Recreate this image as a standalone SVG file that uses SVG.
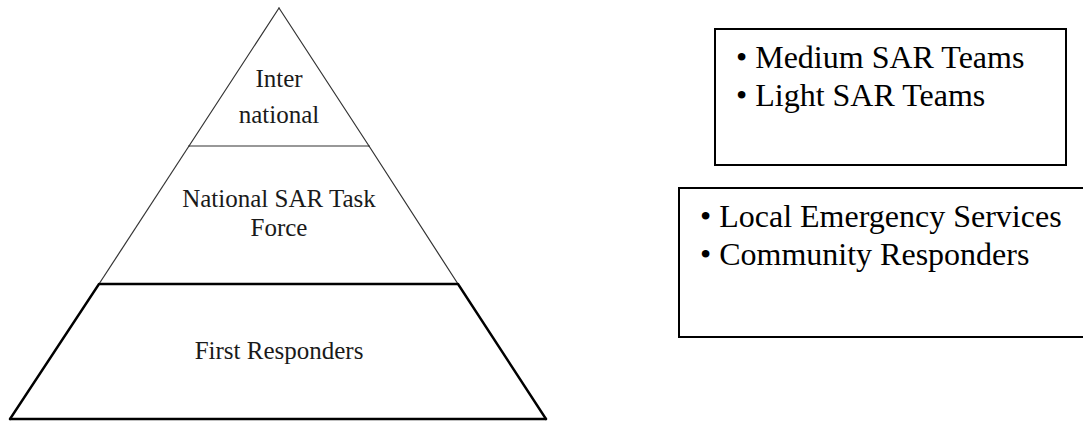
<svg xmlns="http://www.w3.org/2000/svg" width="1083" height="421" viewBox="0 0 1083 421">
  <style>
    .thin { stroke: #333; stroke-width: 1.2; fill: none; stroke-linecap: round; }
    .thick { stroke: #000; stroke-width: 2.4; fill: none; stroke-linecap: round; }
    .ptxt { font-family: "Liberation Serif", "Times New Roman", serif; font-size: 25px; fill: #1a1a1a; text-anchor: middle; }
    .box { fill: #fff; stroke: #000; stroke-width: 2; }
    .btxt { font-family: "Liberation Serif", "Times New Roman", serif; font-size: 32px; fill: #000; }
  </style>
  <rect width="1083" height="421" fill="#fff"/>
  <g id="tier-international">
    <line class="thin" x1="279" y1="8" x2="189" y2="146"/>
    <line class="thin" x1="279" y1="8" x2="369" y2="146"/>
    <line class="thin" x1="189" y1="146" x2="369" y2="146"/>
    <text class="ptxt" x="279" y="87">Inter</text>
    <text class="ptxt" x="279" y="123">national</text>
  </g>
  <g id="tier-national">
    <line class="thin" x1="189" y1="146" x2="99" y2="284"/>
    <line class="thin" x1="369" y1="146" x2="458" y2="284"/>
    <text class="ptxt" x="279" y="207">National SAR Task</text>
    <text class="ptxt" x="279" y="236">Force</text>
  </g>
  <g id="tier-first">
    <line class="thick" x1="100" y1="284" x2="457" y2="284"/>
    <line class="thick" x1="99" y1="284" x2="10" y2="419"/>
    <line class="thick" x1="458" y1="284" x2="546" y2="419"/>
    <line class="thick" x1="10" y1="419" x2="546" y2="419"/>
    <text class="ptxt" x="279" y="359">First Responders</text>
  </g>
  <g id="box-sar-teams">
    <rect class="box" x="715" y="29" width="351" height="136"/>
    <text class="btxt" x="736" y="68">• Medium SAR Teams</text>
    <text class="btxt" x="736" y="106">• Light SAR Teams</text>
  </g>
  <g id="box-local">
    <rect class="box" x="679" y="188" width="420" height="149"/>
    <text class="btxt" x="700" y="227">• Local Emergency Services</text>
    <text class="btxt" x="700" y="265">• Community Responders</text>
  </g>
  <g id="connectors"></g>
</svg>
